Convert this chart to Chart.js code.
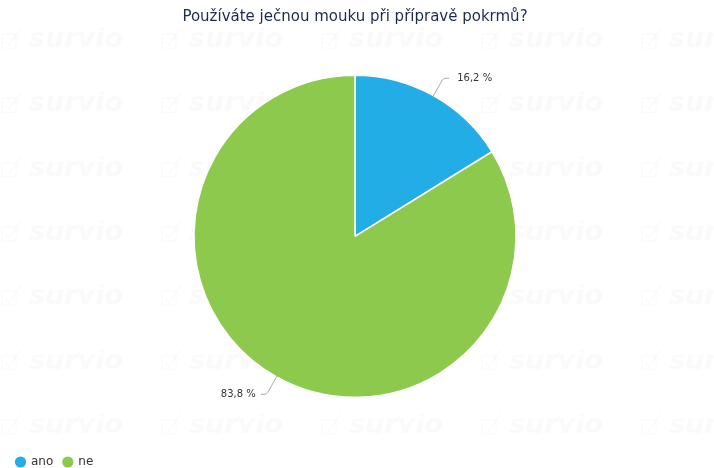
<!DOCTYPE html>
<html>
<head>
<meta charset="utf-8">
<script src="https://cdn.jsdelivr.net/npm/chart.js@4/dist/chart.umd.min.js"></script>
<style>
  html, body { margin: 0; padding: 0; background: #fff; }
  #wrap { width: 714px; height: 468px; }
</style>
</head>
<body>
<div id="wrap"><canvas id="myChart" width="714" height="468"></canvas></div>
<script>
var questionTitle = "Používáte ječnou mouku při přípravě pokrmů?";
var answers = ["ano", "ne"];
var shares = [16.2, 83.8];
var sliceColors = ["#22ade6", "#8cc94c"];

// faint "survio" tiles behind everything
var watermark = {
	id: "watermark",
	beforeDraw: function(chart) {
		var ctx = chart.ctx;
		ctx.save();
		ctx.fillStyle = "#fff";
		ctx.fillRect(0, 0, chart.width, chart.height);
		ctx.fillStyle = "rgba(0,0,0,0.018)";
		ctx.strokeStyle = "rgba(0,0,0,0.018)";
		ctx.lineWidth = 1.5;
		ctx.font = "italic bold 27px 'DejaVu Sans'";
		ctx.textBaseline = "middle";
		for (var row = 0; row < 7; row++) {
			var y = 40 + row * 64.3;
			for (var col = 0; col < 5; col++) {
				var x = 2 + col * 160;
				ctx.strokeRect(x, y - 6, 14, 14);
				ctx.beginPath();
				ctx.moveTo(x + 3, y + 1);
				ctx.lineTo(x + 7, y + 5);
				ctx.lineTo(x + 19, y - 12);
				ctx.stroke();
				ctx.fillText("survio", x + 27, y);
			}
		}
		ctx.restore();
	}
};

// percentage labels with bent leader lines
var sliceLabels = {
	id: "sliceLabels",
	afterDraw: function(chart) {
		var ctx = chart.ctx;
		var meta = chart.getDatasetMeta(0);
		ctx.save();
		ctx.font = "10px 'DejaVu Sans'";
		ctx.fillStyle = "#333";
		ctx.strokeStyle = "#aaa";
		ctx.lineWidth = 1;
		ctx.textBaseline = "middle";
		meta.data.forEach(function(arc, i) {
			var mid = (arc.startAngle + arc.endAngle) / 2;
			var r = arc.outerRadius;
			var cos = Math.cos(mid), sin = Math.sin(mid);
			var x0 = arc.x + cos * (r - 1), y0 = arc.y + sin * (r - 1);
			var x1 = arc.x + cos * (r + 20), y1 = arc.y + sin * (r + 20);
			var dir = cos >= 0 ? 1 : -1;
			var x2 = x1 + dir * 6;
			ctx.beginPath();
			ctx.moveTo(x0, y0);
			ctx.lineTo(x1 - dir * 2 * Math.abs(cos), y1 + (sin > 0 ? -2 : 2));
			ctx.quadraticCurveTo(x1, y1, x1 + dir * 3, y1);
			ctx.lineTo(x2, y1);
			ctx.stroke();
			ctx.textAlign = dir > 0 ? "left" : "right";
			ctx.fillText(shares[i].toFixed(1).replace(".", ",") + " %", x2 + dir * (dir > 0 ? 8 : 5), y1);
		});
		ctx.restore();
	}
};

var chart = new Chart(document.getElementById("myChart").getContext("2d"), {
	type: "pie",
	data: {
		labels: answers,
		datasets: [{
			data: shares,
			backgroundColor: sliceColors,
			borderColor: "#fff",
			borderWidth: 1.5,
			radius: 161
		}]
	},
	options: {
		responsive: false,
		animation: false,
		layout: { padding: { left: 6, right: 10, top: 0, bottom: -10 } },
		plugins: {
			title: {
				display: true,
				text: questionTitle,
				color: "#1d2b4c",
				font: { family: "'DejaVu Sans'", size: 15, weight: "normal" },
				padding: { top: 8, bottom: 0.6 }
			},
			legend: {
				display: true,
				position: "bottom",
				align: "start",
				labels: {
					usePointStyle: true,
					pointStyle: "circle",
					boxWidth: 9,
					boxHeight: 9,
					padding: 10,
					color: "#333",
					font: { family: "'DejaVu Sans'", size: 12 }
				}
			},
			tooltip: { enabled: false }
		}
	},
	plugins: [watermark, sliceLabels]
});
</script>
</body>
</html>
